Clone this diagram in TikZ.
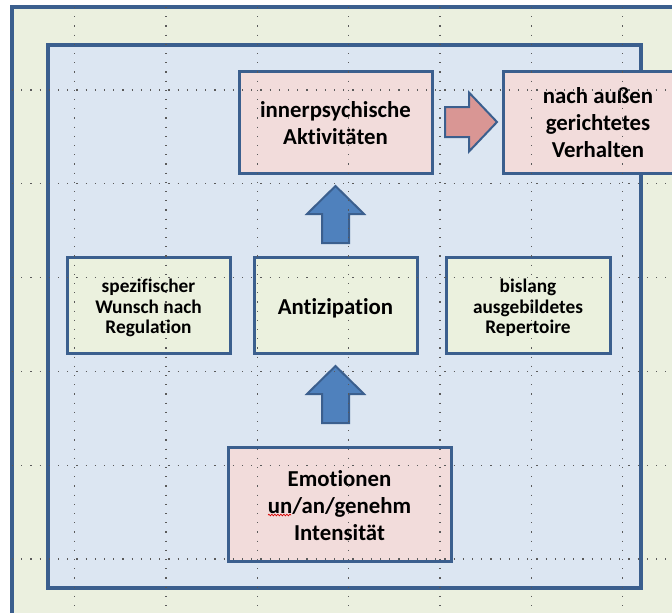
\documentclass[tikz,border=0pt]{standalone}
\usepackage{fontspec}
\setmainfont{Carlito}[Ligatures=NoCommon]
\usetikzlibrary{decorations.pathmorphing}
\definecolor{framegreen}{HTML}{EBF0DF}
\definecolor{paneblue}{HTML}{DCE6F2}
\definecolor{boxpink}{HTML}{F2DCDB}
\definecolor{boxgreen}{HTML}{EBF1DE}
\definecolor{edgeblue}{HTML}{3B5F8E}
\definecolor{arrowblue}{HTML}{4F81BD}
\definecolor{arrowpink}{HTML}{D99694}
\definecolor{dotgray}{HTML}{5A5A5A}
\tikzset{
  frame/.style={draw=edgeblue, line width=3.2pt},
  card/.style={draw=edgeblue, line width=3pt, inner sep=0pt},
  bigtext/.style={inner sep=0pt, align=center, font=\bfseries\fontsize{22.8}{27}\selectfont},
  smalltext/.style={inner sep=0pt, align=center, font=\bfseries\fontsize{19.3}{20.6}\selectfont},
  blockarrow/.style={draw=edgeblue, line width=2pt, line join=miter},
  griddot/.style={draw=dotgray, line width=1.1pt, dash pattern=on 1.1pt off 8.1pt}
}
\begin{document}
\begin{tikzpicture}[x=1pt, y=-1pt]
\useasboundingbox (0,0) rectangle (672,613);
\clip (0,0) rectangle (672,613);

% background frames
\fill[white] (0,0) rectangle (672,613);
\path[frame, fill=framegreen] (12,7) rectangle (720,660);
\path[frame, fill=paneblue] (48,45) rectangle (641,588);

% boxes
\node[card, fill=boxpink, minimum width=193pt, minimum height=102pt] (inner) at (335.5,122) {};
\node[card, fill=boxpink, minimum width=190pt, minimum height=102pt] (outer) at (598,122) {};
\node[card, fill=boxgreen, minimum width=163pt, minimum height=96pt] (wish) at (148.5,305) {};
\node[card, fill=boxgreen, minimum width=163pt, minimum height=96pt] (antic) at (335.5,305) {};
\node[card, fill=boxgreen, minimum width=164pt, minimum height=96pt] (rep) at (528,305) {};
\node[card, fill=boxpink, minimum width=223pt, minimum height=114pt] (emo) at (339.5,504) {};

% box texts
\node[bigtext] (innerT) at ([yshift=-1pt]inner.center) {innerpsychische\\Aktivitäten};
\node[bigtext] (outerT) at ([yshift=-1pt]outer.center) {nach außen\\gerichtetes\\Verhalten};
\node[smalltext] (wishT) at ([yshift=-3pt]wish.center) {spezifischer\\Wunsch nach\\Regulation};
\node[bigtext] (anticT) at ([yshift=-3pt]antic.center) {Antizipation};
\node[smalltext] (repT) at ([yshift=-3pt]rep.center) {bislang\\ausgebildetes\\Repertoire};
\node[bigtext] (emoT) at ([yshift=-2pt]emo.center) {Emotionen\\un/an/genehm\\Intensität};

% spell-check squiggle under "un"
\coordinate (sqa) at (268,515);
\coordinate (sqb) at (291,515);
\draw[red!85!black, line width=0.7pt, decorate,
  decoration={snake, amplitude=0.8pt, segment length=3pt}] (sqa) -- (sqb);

% block arrows
\coordinate (upA) at (335.5,186);
\coordinate (upB) at (335.5,366);
\foreach \c in {upA, upB} {
  \path[blockarrow, fill=arrowblue] (\c)
    -- ++(28.5,28) -- ++(-15,0) -- ++(0,29) -- ++(-27,0) -- ++(0,-29) -- ++(-15,0) -- cycle;
}
\coordinate (rtip) at (497,122);
\path[blockarrow, fill=arrowpink] (rtip)
  -- ++(-28,29.5) -- ++(0,-14.5) -- ++(-24,0) -- ++(0,-30) -- ++(24,0) -- ++(0,-14.5) -- cycle;

% dotted guide grid
\begin{scope}
\clip (12,7) rectangle (672,613);
\foreach \x in {74.5,166,257.3,348.7,440,531.3,622.6}
  \draw[griddot] (\x,7) -- (\x,613);
\foreach \y in {90,183.8,277.6,371.4,465.2,559}
  \draw[griddot] (12,\y) -- (672,\y);
\end{scope}
\end{tikzpicture}
\end{document}
